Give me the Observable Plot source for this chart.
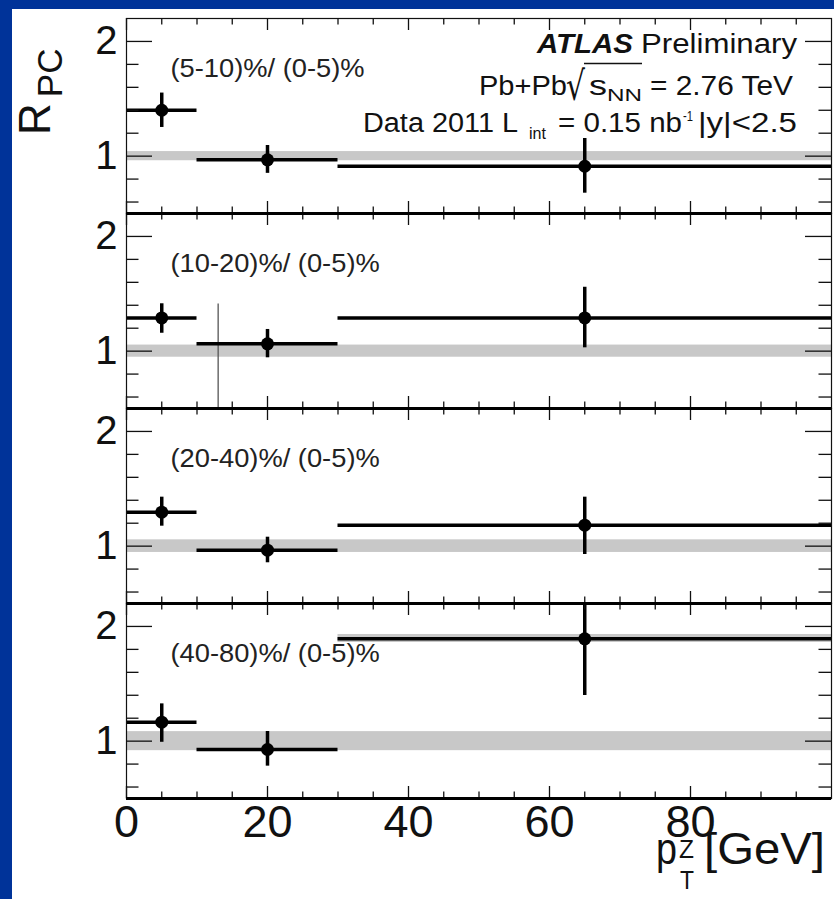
<!DOCTYPE html>
<html><head><meta charset="utf-8">
<script src="https://cdn.jsdelivr.net/npm/d3@7"></script>
<script src="https://cdn.jsdelivr.net/npm/@observablehq/plot@0.6"></script>
<style>
html,body{margin:0;padding:0;background:#003399;}
#page{position:relative;width:834px;height:899px;overflow:hidden;background:#003399;}
#white{position:absolute;left:12px;top:9px;width:822px;height:890px;background:#fff;}
#chart{position:absolute;left:0;top:0;}
#overlay{position:absolute;left:0;top:0;pointer-events:none;}
</style></head>
<body>
<div id="page">
<div id="white"></div>
<div id="chart"></div>
<svg id="overlay" width="834" height="899" font-family="Liberation Sans, Arial, sans-serif" fill="#111">
  <!-- y axis title -->
  <text transform="translate(50,135) rotate(-90)" font-size="44">R<tspan font-size="35" dx="6" dy="12">PC</tspan></text>
  <!-- x axis title -->
  <text x="656" y="864" font-size="44" textLength="21" lengthAdjust="spacingAndGlyphs">p</text>
  <text x="679" y="858" font-size="25" textLength="15" lengthAdjust="spacingAndGlyphs">Z</text>
  <text x="680" y="889" font-size="25" textLength="14" lengthAdjust="spacingAndGlyphs">T</text>
  <text x="704" y="864" font-size="44" textLength="121" lengthAdjust="spacingAndGlyphs">[GeV]</text>
  <!-- ATLAS block -->
  <text x="537" y="53" font-size="27" font-weight="bold" font-style="italic" textLength="96" lengthAdjust="spacingAndGlyphs">ATLAS</text>
  <text x="641" y="53" font-size="27" textLength="156" lengthAdjust="spacingAndGlyphs">Preliminary</text>
  <text x="479" y="95" font-size="27" textLength="88" lengthAdjust="spacingAndGlyphs">Pb+Pb</text>
  <text x="566" y="100" font-size="40" font-family="DejaVu Sans" textLength="19" lengthAdjust="spacingAndGlyphs">√</text>
  <line x1="584" y1="63.5" x2="642" y2="63.5" stroke="#111" stroke-width="1.5"/>
  <text x="589" y="95" font-size="27" textLength="18" lengthAdjust="spacingAndGlyphs">s</text>
  <text x="607" y="101" font-size="17" textLength="35" lengthAdjust="spacingAndGlyphs">NN</text>
  <text x="650" y="95" font-size="27" textLength="143" lengthAdjust="spacingAndGlyphs">= 2.76 TeV</text>
  <text x="363" y="132" font-size="27" textLength="155" lengthAdjust="spacingAndGlyphs">Data 2011 L</text>
  <text x="529" y="139" font-size="17" textLength="17" lengthAdjust="spacingAndGlyphs">int</text>
  <text x="558" y="132" font-size="27" textLength="124" lengthAdjust="spacingAndGlyphs">= 0.15 nb</text>
  <text x="683" y="121" font-size="15" textLength="10" lengthAdjust="spacingAndGlyphs">-1</text>
  <text x="698" y="132" font-size="27" textLength="99" lengthAdjust="spacingAndGlyphs">|y|&lt;2.5</text>
</svg>
</div>
<script>
// ---- data ----
const panels = ["(5-10)%/ (0-5)%", "(10-20)%/ (0-5)%", "(20-40)%/ (0-5)%", "(40-80)%/ (0-5)%"];
const binLow = [0, 10, 30];
const binHigh = [10, 30, 100];
const binCenter = [5, 20, 65];
const ratio = [
  [1.40, 0.968, 0.912],
  [1.29, 1.064, 1.29],
  [1.296, 0.965, 1.183],
  [1.165, 0.927, 1.892]
];
const errHigh = [
  [1.55, 1.093, 1.154],
  [1.413, 1.189, 1.557],
  [1.427, 1.078, 1.427],
  [1.325, 1.084, 2.38]
];
const errLow = [
  [1.25, 0.85, 0.677],
  [1.156, 0.942, 1.029],
  [1.174, 0.855, 0.927],
  [0.99, 0.782, 1.398]
];
const bandHalf = [0.04, 0.053, 0.055, 0.083];
const sysPanel = [3];
const sysBin = [2];
const sysLow = [1.86];
const sysHigh = [1.93];
const strayPanel = [1];
const strayX = [13];
const strayTop = [1.41];
const xTicksMajor = [0, 20, 40, 60, 80];
const xTicksMinor = [5, 10, 15, 25, 30, 35, 45, 50, 55, 65, 70, 75, 85, 90, 95];
const yTicksMajor = [1, 2];
const yTicksMinor = [0.6, 0.8, 1.2, 1.4, 1.6, 1.8];
const xDomain = [0, 100];
const yDomain = [0.5, 2.2];

// ---- tables ----
const points = panels.flatMap((p, i) => binCenter.map((c, j) => ({
  panel: p, x: c, x1: binLow[j], x2: binHigh[j], y: ratio[i][j], y1: errLow[i][j], y2: errHigh[i][j]
})));
const bands = panels.map((p, i) => ({panel: p, lo: 1 - bandHalf[i], hi: 1 + bandHalf[i]}));
const sys = sysPanel.map((pi, k) => ({panel: panels[pi], x1: binLow[sysBin[k]], x2: binHigh[sysBin[k]], lo: sysLow[k], hi: sysHigh[k]}));
const stray = strayPanel.map((pi, k) => ({panel: panels[pi], x: strayX[k], top: strayTop[k]}));

const W = 834, H = 899, mL = 126, mR = 3, mT = 18, mB = 101;
const panelH = (H - mT - mB) / panels.length;
const plotW = W - mL - mR;

const chart = Plot.plot({
  width: W, height: H,
  marginLeft: mL, marginRight: mR, marginTop: mT, marginBottom: mB,
  style: {background: "transparent", fontFamily: "Liberation Sans, Arial, sans-serif", color: "#111", overflow: "visible"},
  x: {domain: xDomain},
  y: {domain: yDomain},
  fy: {domain: panels, padding: 0, axis: null},
  marks: [
    Plot.rect(bands, {fy: "panel", x1: () => xDomain[0], x2: () => xDomain[1], y1: "lo", y2: "hi", fill: "#c8c8c8"}),
    Plot.rect(sys, {fy: "panel", x1: "x1", x2: "x2", y1: "lo", y2: "hi", fill: "#c8c8c8"}),
    Plot.ruleX(stray, {fy: "panel", x: "x", y1: "top", y2: () => yDomain[0], stroke: "#555", strokeWidth: 1.3}),
    Plot.ruleY(points, {fy: "panel", x1: "x1", x2: "x2", y: "y", stroke: "#000", strokeWidth: 3.5, clip: true}),
    Plot.ruleX(points, {fy: "panel", x: "x", y1: "y1", y2: "y2", stroke: "#000", strokeWidth: 3.5, clip: true}),
    Plot.dot(points, {fy: "panel", x: "x", y: "y", r: 6.5, fill: "#000"}),
    // inward ticks, all four sides
    Plot.tickX(xTicksMajor, {x: d => d, insetBottom: panelH - 12, stroke: "#111", strokeWidth: 1.3}),
    Plot.tickX(xTicksMinor, {x: d => d, insetBottom: panelH - 6.5, stroke: "#111", strokeWidth: 1.3}),
    Plot.tickX(xTicksMajor, {x: d => d, insetTop: panelH - 12, stroke: "#111", strokeWidth: 1.3}),
    Plot.tickX(xTicksMinor, {x: d => d, insetTop: panelH - 6.5, stroke: "#111", strokeWidth: 1.3}),
    Plot.tickY(yTicksMajor, {y: d => d, insetRight: plotW - 26, stroke: "#111", strokeWidth: 1.3}),
    Plot.tickY(yTicksMinor, {y: d => d, insetRight: plotW - 12.5, stroke: "#111", strokeWidth: 1.3}),
    Plot.tickY(yTicksMajor, {y: d => d, insetLeft: plotW - 26, stroke: "#111", strokeWidth: 1.3}),
    Plot.tickY(yTicksMinor, {y: d => d, insetLeft: plotW - 12.5, stroke: "#111", strokeWidth: 1.3}),
    Plot.frame({stroke: "#111", strokeWidth: 1.2}),
    Plot.ruleY([yDomain[0]], {stroke: "#000", strokeWidth: 3}),
    Plot.axisY(yTicksMajor, {tickSize: 0, tickPadding: 9, fontSize: 40, label: null, fill: "#111", tickFormat: d => String(d)}),
    Plot.axisX(xTicksMajor, {tickSize: 0, tickPadding: 7, fontSize: 45, label: null, fill: "#111", tickFormat: d => String(d)}),
    Plot.text(panels, {fy: d => d, text: d => d, frameAnchor: "top-left", dx: 44, dy: 58, lineAnchor: "bottom", textAnchor: "start", fontSize: 26, fill: "#222"})
  ]
});

document.getElementById("chart").appendChild(chart);

// slightly wider lettering for the panel labels, as in the reference
chart.querySelectorAll('g[aria-label="text"] text').forEach(t => {
  const tr = t.getAttribute("transform");
  if (tr) t.setAttribute("transform", tr + " scale(1.05,1)");
});
</script>
</body></html>
